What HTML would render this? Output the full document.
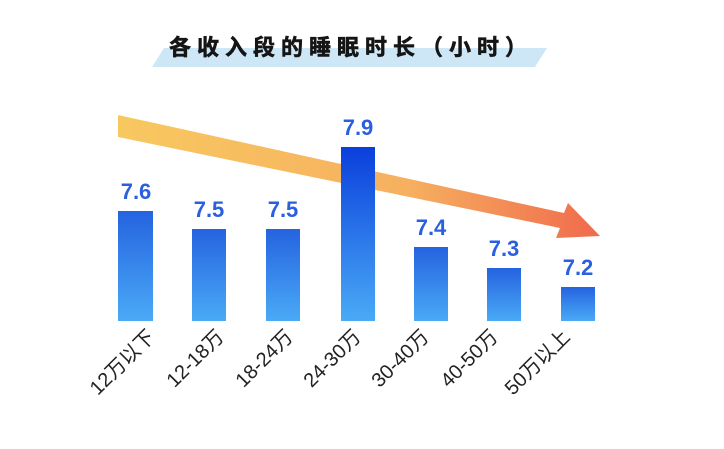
<!DOCTYPE html>
<html><head><meta charset="utf-8"><style>
body{margin:0;background:#fff;width:724px;height:444px;overflow:hidden}
</style></head><body>
<svg width="724" height="444" xmlns="http://www.w3.org/2000/svg" font-family="Liberation Sans, Noto Sans CJK SC, sans-serif">
<defs>
<linearGradient id="bar" x1="0" y1="0" x2="0" y2="1"><stop offset="0" stop-color="#2563e0"/><stop offset="1" stop-color="#4aaaf6"/></linearGradient>
<linearGradient id="bar4" x1="0" y1="0" x2="0" y2="1"><stop offset="0" stop-color="#0a3fdc"/><stop offset="1" stop-color="#4aaaf6"/></linearGradient>
<linearGradient id="arr" x1="118" y1="0" x2="600" y2="0" gradientUnits="userSpaceOnUse"><stop offset="0" stop-color="#f8c860"/><stop offset="0.6" stop-color="#f6b060"/><stop offset="1" stop-color="#f06a4c"/></linearGradient>
</defs>
<polygon points="152,67 535,67 547,48 164,48" fill="#cde7f7"/>
<text x="351" y="55" text-anchor="middle" font-size="22" font-weight="bold" fill="#151515" letter-spacing="6" stroke="#151515" stroke-width="0.6">各收入段的睡眠时长（小时）</text>
<polygon points="118,115 564,213 568,203 600,236 556,238 560,228 118,137" fill="url(#arr)"/>
<g fill="url(#bar)">
<rect x="118" y="211" width="35" height="110"/>
<rect x="192" y="229" width="34" height="92"/>
<rect x="266" y="229" width="34" height="92"/>
<rect x="414" y="247" width="34" height="74"/>
<rect x="487" y="268" width="34" height="53"/>
<rect x="561" y="287" width="34" height="34"/>
</g>
<rect x="341" y="147" width="34" height="174" fill="url(#bar4)"/>
<g font-size="22" font-weight="bold" fill="#2a5fe0" text-anchor="middle">
<text x="136" y="199">7.6</text>
<text x="209" y="217">7.5</text>
<text x="283" y="217">7.5</text>
<text x="358" y="135">7.9</text>
<text x="431" y="235">7.4</text>
<text x="504" y="256">7.3</text>
<text x="578" y="275">7.2</text>
</g>
<g font-size="20" fill="#222" text-anchor="end">
<text transform="translate(156,338) rotate(-45)">12万以下</text>
<text transform="translate(225,338) rotate(-45)">12-18万</text>
<text transform="translate(294,338) rotate(-45)">18-24万</text>
<text transform="translate(362,338) rotate(-45)">24-30万</text>
<text transform="translate(430,338) rotate(-45)">30-40万</text>
<text transform="translate(499,338) rotate(-45)">40-50万</text>
<text transform="translate(571,338) rotate(-45)">50万以上</text>
</g>
</svg>
</body></html>
